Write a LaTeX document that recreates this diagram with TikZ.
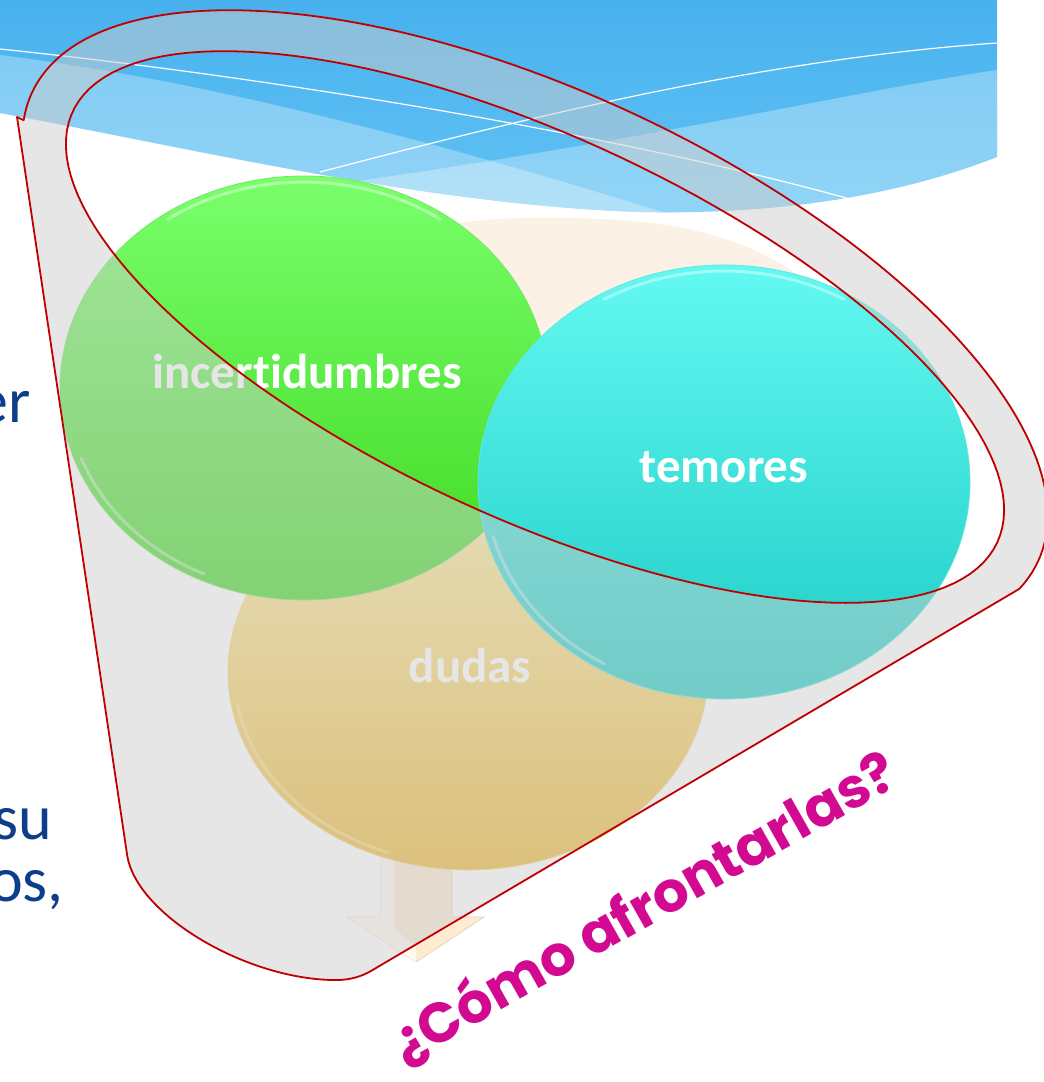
\documentclass[tikz,border=0pt]{standalone}
\usepackage{fontspec}
\setmainfont{Carlito}[Ligatures=NoCommon]
\newfontfamily\handfont{Poppins}
\usepackage{tikz}
\definecolor{bannertop}{HTML}{48B1EE}
\definecolor{bannerbottom}{HTML}{62C3F4}
\definecolor{creamback}{HTML}{FBF1E4}
\definecolor{arrowcream}{HTML}{FDEBD2}
\definecolor{arrowlight}{HTML}{FFF9F0}
\definecolor{arrowedge}{HTML}{E6D2B6}
\definecolor{greentop}{HTML}{7AFF6C}
\definecolor{greenbottom}{HTML}{3ED820}
\definecolor{greenedge}{HTML}{7BE56A}
\definecolor{cyantop}{HTML}{63F9F2}
\definecolor{cyanbottom}{HTML}{1CCBC4}
\definecolor{cyanedge}{HTML}{5FE8E2}
\definecolor{goldtop}{HTML}{FFF0A8}
\definecolor{goldbottom}{HTML}{EDB630}
\definecolor{goldedge}{HTML}{F2D98A}
\definecolor{goldgloss}{HTML}{FFF6C0}
\definecolor{funnelgray}{HTML}{CCCCCC}
\definecolor{rimred}{HTML}{C00000}
\definecolor{slideblue}{HTML}{0D3E8C}
\definecolor{askpink}{HTML}{D10A91}
\tikzstyle{banner} = [top color=bannertop, bottom color=bannerbottom]
\tikzstyle{wave} = [white, opacity=.3]
\tikzstyle{wave line} = [white, line width=1.2pt]
\tikzstyle{green oval} = [top color=greentop, bottom color=greenbottom, draw=greenedge, line width=.8pt]
\tikzstyle{cyan oval} = [top color=cyantop, bottom color=cyanbottom, draw=cyanedge, line width=.8pt]
\tikzstyle{gold oval} = [top color=goldtop, bottom color=goldbottom, draw=goldedge, line width=.8pt]
\tikzstyle{gloss} = [white, line width=3pt, opacity=.4, line cap=round]
\tikzstyle{oval label} = [text=white, font=\bfseries\fontsize{49}{58}\selectfont, anchor=base, inner sep=0pt]
\tikzstyle{funnel} = [fill=funnelgray, fill opacity=.49, draw=rimred, line width=1.8pt, line join=round, even odd rule]
\tikzstyle{slide text} = [text=slideblue, font=\fontsize{64}{62}\selectfont, anchor=base east, inner sep=0pt]
\tikzstyle{question} = [text=askpink, font=\handfont\bfseries\fontsize{56}{60}\selectfont, anchor=base west, inner sep=0pt]

\begin{document}
\begin{tikzpicture}[x=1pt, y=-1pt]
        \useasboundingbox (0,0) rectangle (1044,1082);
        \clip (0,0) rectangle (1044,1082);
        \fill[white] (0,0) rectangle (1044,1082);
        % blue banner
        \shade[banner] (0,0) -- (997,0) -- (997,157) .. controls (900,195) and (780,215) .. (640,212) .. controls (430,205) and (200,150) .. (0,113) -- cycle;
        \begin{scope}
            \clip (0,0) -- (997,0) -- (997,157) .. controls (900,195) and (780,215) .. (640,212) .. controls (430,205) and (200,150) .. (0,113) -- cycle;
            \fill[wave] (0,55) .. controls (200,80) and (420,135) .. (720,230) -- (0,230) -- cycle;
            \fill[wave] (997,70) .. controls (850,92) and (650,140) .. (330,185) -- (330,230) -- (997,230) -- cycle;
            \draw[wave line] (0,49) .. controls (250,75) and (600,130) .. (850,199);
            \draw[wave line] (320,172) .. controls (500,125) and (750,60) .. (997,43);
        \end{scope}
        % shapes inside the funnel
        \fill[creamback] (420,260) -- (440,226) .. controls (480,218) and (540,216) .. (600,219) .. controls (690,223) and (750,240) .. (805,280) -- (805,600) -- (420,600) -- cycle;
        \fill[arrowcream, draw=arrowedge, line width=.8pt] (381,840) -- (452,840) -- (452,917) -- (484,917) -- (416,962) -- (347,917) -- (381,917) -- cycle;
        \fill[arrowlight] (381,840) -- (394,840) -- (394,928) -- (381,917) -- cycle;
        \fill[arrowlight] (347,917) -- (381,917) -- (416,947) -- (416,962) -- cycle;
        \shade[gold oval] (468,672) ellipse [x radius=240pt, y radius=198pt];
        \draw[gloss, goldgloss] plot[domain=190:250, samples=30] ({468+234*cos(\x)}, {672-192*sin(\x)});
        \shade[green oval] (304,388) ellipse [x radius=244pt, y radius=212pt];
        \draw[gloss] plot[domain=55:125, samples=30] ({304+238*cos(\x)}, {388-206*sin(\x)});
        \draw[gloss] plot[domain=200:245, samples=30] ({304+237*cos(\x)}, {388-205*sin(\x)});
        \shade[cyan oval] (724,482) ellipse [x radius=246pt, y radius=217pt];
        \draw[gloss] plot[domain=60:120, samples=30] ({724+240*cos(\x)}, {482-211*sin(\x)});
        \draw[gloss] plot[domain=195:240, samples=30] ({724+239*cos(\x)}, {482-210*sin(\x)});
        \node (dudas) [oval label] at (470,682) {dudas};
        \node (incert) [oval label] at (307,388) {incert\kern0pt idumbres};
        \node (temores) [oval label] at (724,482) {temores};
        % funnel body with its rim
        \path[funnel] (17,117) -- (127,854) .. controls (135,915) and (250,982) .. (340,980) .. controls (355,979) and (365,975) .. (376,968)
            -- plot[domain=8:-187, samples=120, variable=\t] ({535+555*cos(\t)*0.9063-235*sin(\t)*0.4226}, {327+555*cos(\t)*0.4226+235*sin(\t)*0.9063}) -- cycle
            plot[domain=0:360, samples=150, variable=\t] ({535+510*cos(\t)*0.9063-190*sin(\t)*0.4226}, {327+510*cos(\t)*0.4226+190*sin(\t)*0.9063}) -- cycle;
        % slide text cut by the edge
        \node (line1) [slide text] at (31,422) {er};
        \node (line2) [slide text] at (52,839) {su};
        \node (line3) [slide text] at (64,901) {os,};
        \node (howto) [question, rotate=29.5] at (404,1065) {¿Cómo afrontarlas?};
    \end{tikzpicture}
\end{document}
